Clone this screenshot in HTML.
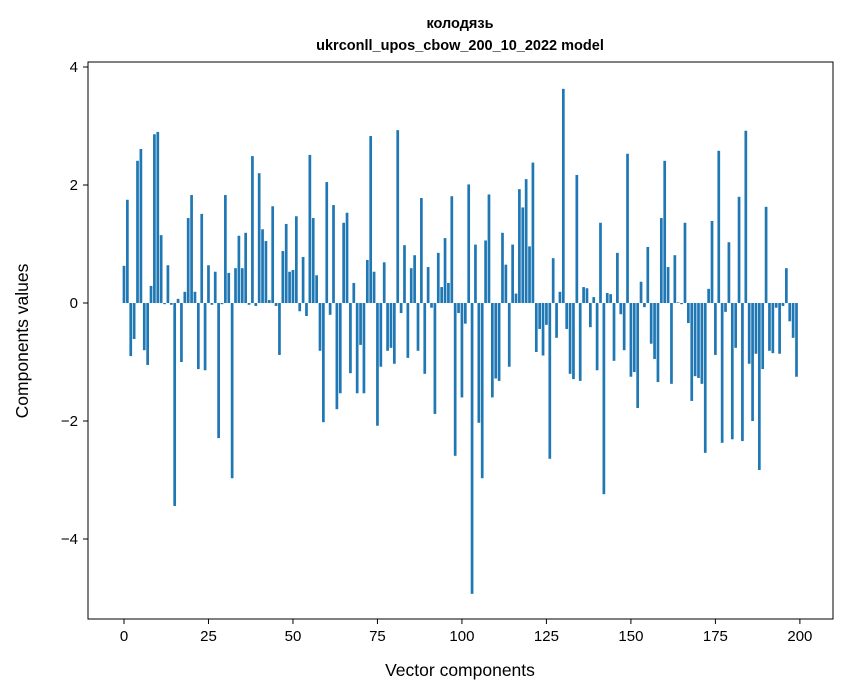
<!DOCTYPE html>
<html><head><meta charset="utf-8"><style>
html,body{margin:0;padding:0;background:#fff;}
svg{display:block;font-family:"Liberation Sans","DejaVu Sans",sans-serif;}
</style></head><body>
<svg id="chart" width="847" height="696" viewBox="0 0 847 696" xmlns="http://www.w3.org/2000/svg"></svg>
<script>
const values = [0.63,1.75,-0.9,-0.61,2.41,2.61,-0.8,-1.05,0.29,2.86,2.9,1.15,-0.02,0.64,-0.03,-3.44,0.07,-1.0,0.19,1.44,
1.83,0.19,-1.12,1.51,-1.14,0.64,-0.03,0.53,-2.29,-0.02,1.83,0.51,-2.97,0.59,1.14,0.59,1.19,-0.03,2.49,-0.05,
2.2,1.25,1.05,0.05,1.64,-0.05,-0.88,0.88,1.34,0.53,0.56,1.47,-0.14,0.78,-0.22,2.51,1.44,0.47,-0.81,-2.02,
2.05,-0.2,1.66,-1.8,-1.53,1.36,1.53,-1.19,0.34,-1.53,-0.71,-1.53,0.73,2.83,0.53,-2.08,-1.08,0.69,-0.81,-0.76,
-1.03,2.93,-0.17,0.98,-0.93,0.59,0.81,-0.81,1.78,-1.2,0.61,-0.08,-1.88,0.85,0.27,1.1,0.34,1.81,-2.59,-0.17,
-1.6,-0.35,2.01,-4.93,0.99,-2.03,-2.97,1.06,1.84,-1.6,-1.28,-1.32,1.19,0.65,-1.08,0.99,0.16,1.93,1.62,2.1,
0.96,2.38,-0.83,-0.44,-0.89,-0.37,-2.64,0.76,-0.59,0.19,3.63,-0.44,-1.2,-1.29,2.17,-1.32,0.27,0.25,-0.41,0.1,
-1.14,1.36,-3.24,0.17,0.15,-0.98,0.85,-0.19,-0.8,2.53,-1.25,-1.17,-1.78,0.36,-0.07,0.95,-0.69,-0.95,-1.34,1.44,
2.41,0.61,-1.37,0.81,0.01,-0.02,1.36,-0.34,-1.66,-1.24,-1.27,-1.37,-2.54,0.24,1.39,-0.88,2.58,-2.37,-0.15,1.03,
-2.31,-0.76,1.8,-2.34,2.92,-1.03,-2.0,-0.86,-2.83,-1.12,1.63,-0.81,-0.85,-0.08,-0.86,-0.05,0.59,-0.31,-0.59,-1.25];
const xTicks = [0,25,50,75,100,125,150,175,200];
const yTicks = [-4,-2,0,2,4];
const NS="http://www.w3.org/2000/svg";
const svg=document.getElementById('chart');
const L=88,R=833,T=62,B=619;
const xMin=-10.65,xMax=209.8,yMin=-5.356,yMax=4.085;
function xs(v){return L+(v-xMin)/(xMax-xMin)*(R-L);}
function ys(v){return B-(v-yMin)/(yMax-yMin)*(B-T);}
function mk(tag,attrs,parent){const e=document.createElementNS(NS,tag);for(const k in attrs)e.setAttribute(k,attrs[k]);(parent||svg).appendChild(e);return e;}
const bars=mk('g',{});


const bw=(xs(0.8)-xs(0));
values.forEach((v,i)=>{
  const y0=ys(0),y1=ys(v);
  const r=mk('rect',{x:xs(i)-bw/2,y:Math.min(y0,y1),width:bw,height:Math.max(Math.abs(y1-y0),0.3),fill:'#1f77b4'},bars);
  
  
});
const frame=mk('rect',{x:L,y:T,width:R-L,height:B-T,fill:'none',stroke:'#000','stroke-width':1});


xTicks.forEach(t=>{
  const x=xs(t);
  mk('line',{x1:x,x2:x,y1:B,y2:B+5,stroke:'#000','stroke-width':1});
  const tx=mk('text',{x:x,y:B+22,'text-anchor':'middle','font-size':'15'});
  tx.textContent=String(t);
  
  
});
yTicks.forEach(t=>{
  const y=ys(t);
  mk('line',{x1:L-5,x2:L,y1:y,y2:y,stroke:'#000','stroke-width':1});
  const tx=mk('text',{x:L-10,y:y+5,'text-anchor':'end','font-size':'15'});
  tx.textContent=(t<0?'\u2212'+Math.abs(t):String(t));
  
  
});
</script>
<script>
(function(){
const NS="http://www.w3.org/2000/svg";const svg=document.getElementById('chart');
function t(txt,a,name){const e=document.createElementNS(NS,'text');for(const k in a)e.setAttribute(k,a[k]);e.textContent=txt;svg.appendChild(e);

}
t('колодязь',{x:460,y:28,'text-anchor':'middle','font-size':'14.5','font-weight':'bold'},'chart-title-line1');
t('ukrconll_upos_cbow_200_10_2022 model',{x:460,y:50,'text-anchor':'middle','font-size':'14.5','font-weight':'bold'},'chart-title-line2');
t('Vector components',{x:460,y:676,'text-anchor':'middle','font-size':'17.5'},'x-axis-title');
t('Components values',{x:28,y:341,'text-anchor':'middle','font-size':'17.5',transform:'rotate(-90 28 341)'},'y-axis-title');
})();
</script>
</body></html>
